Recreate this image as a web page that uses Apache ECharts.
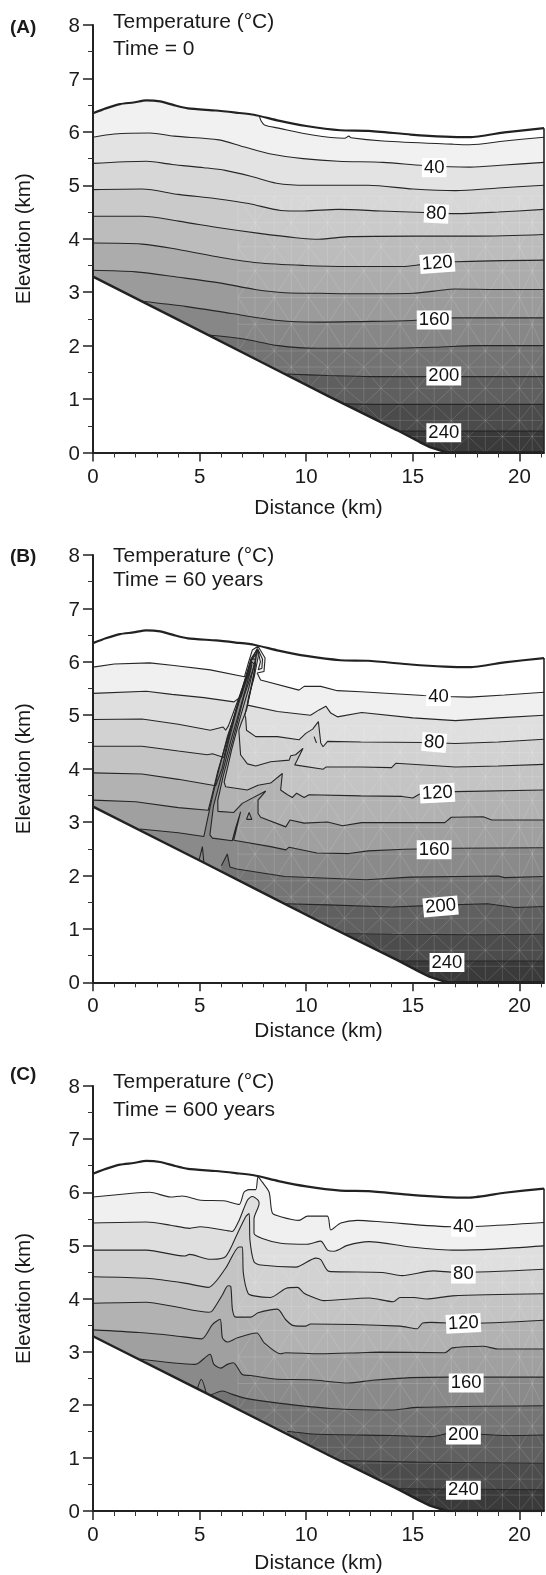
<!DOCTYPE html>
<html>
<head>
<meta charset="utf-8">
<style>
  html, body { margin: 0; padding: 0; background: #fff; }
  #chart { width: 546px; height: 1575px; }
</style>
<script src="https://cdn.jsdelivr.net/npm/echarts@6/dist/echarts.min.js"></script>
</head>
<body>
<div id="chart"></div>
<script>
  // ground surface and bottom of the model, same in all three panels
  var surface = [[0,6.35],[0.6,6.44],[1.27,6.52],[1.9,6.55],[2.5,6.59],[3.15,6.57],[3.8,6.5],[4.45,6.44],[5.76,6.40],[6.7,6.36],[7.55,6.32],[8.7,6.21],[10,6.11],[11.6,6.03],[12.9,6.02],[14.9,5.95],[16.5,5.91],[17.67,5.90],[19.3,5.99],[21.15,6.07]]
  var basement = [[0,3.29],[5,2.28],[8,1.67],[11.1,1.04],[14.25,0.42],[15.3,0.2],[15.8,0.1],[16.6,0],[21.15,0]]

  // panel A, time = 0
  var a0 = [[7.8,6.3],[7.88,6.21],[8.04,6.13],[8.7,6.07],[10.3,5.94],[11.8,5.88],[12,5.92],[12.1,5.89],[13.6,5.83],[16.85,5.77],[17.67,5.76],[19.3,5.83],[21.15,5.90]]
  var a1 = [[0,5.9],[1,5.96],[2.66,5.98],[3.8,5.92],[5.9,5.85],[7.06,5.72],[8.4,5.58],[9.85,5.50],[11.5,5.45],[13.6,5.43],[15.5,5.37],[17.67,5.34],[19.3,5.38],[21.15,5.43]]
  var a2 = [[0,5.41],[2.5,5.45],[3.7,5.39],[5.2,5.33],[6.2,5.28],[7.4,5.17],[8.6,5.04],[10,5.0],[11,5.0],[12.9,5.0],[15,4.93],[17,4.9],[19,4.95],[21.15,5.0]]
  var a3 = [[0,4.92],[2.3,4.93],[4,4.83],[5.8,4.75],[7.3,4.66],[8.8,4.53],[9.9,4.52],[11.5,4.55],[13.5,4.52],[15.5,4.49],[17,4.47],[19,4.5],[21.15,4.55]]
  var a4 = [[0,4.42],[2.3,4.42],[4,4.33],[6,4.2],[7.8,4.1],[9.5,4.02],[10.6,3.99],[12,4.04],[15,4.05],[18,4.05],[21.15,4.08]]
  var a5 = [[0,3.92],[2.3,3.9],[4,3.8],[6,3.65],[7.7,3.55],[9.9,3.5],[12,3.48],[14.5,3.48],[15.5,3.52],[17,3.57],[21.15,3.6]]
  var a6 = [[0,3.41],[2,3.38],[4,3.28],[6,3.17],[7.6,3.05],[9,2.99],[10.6,2.98],[12.5,2.97],[15,2.98],[16,3.02],[17,3.06],[19,3.05],[21.15,3.05]]
  var a7 = [[2.3,2.83],[4.4,2.73],[6.5,2.6],[8.7,2.47],[10.5,2.44],[12.5,2.45],[15,2.47],[17,2.52],[21.15,2.52]]
  var a8 = [[5.4,2.2],[7,2.13],[8.7,2.0],[10.5,1.95],[13,1.95],[16,1.97],[18,2],[21.15,2]]
  var a9 = [[9,1.47],[11,1.44],[13,1.42],[16,1.42],[21.15,1.42]]
  var a10 = [[11.8,0.91],[14,0.9],[21.15,0.9]]
  var a11 = [[14.3,0.4],[17,0.4],[21.15,0.4]]
  var labelsA = [[16,5.33,'40',0],[16.1,4.47,'80',-3],[16.15,3.54,'120',4],[16,2.48,'160',0],[16.45,1.43,'200',0],[16.45,0.37,'240',0]]

  // panel B, time = 60 years
  var b1 = [[0,5.9],[1,5.96],[2.66,5.98],[3.8,5.93],[5.5,5.85],[7.1,5.72],[7.11,5.75],[7.3,6.0],[7.47,6.22],[7.74,6.29],[8.07,6.07],[8.02,5.82],[7.7,5.79],[7.86,5.66],[9.66,5.47],[9.9,5.54],[10.68,5.54],[11.46,5.46],[12.56,5.44],[15.5,5.37],[16.5,5.35],[17.67,5.34],[19.3,5.38],[21.15,5.43]]
  var b2 = [[0,5.41],[2.5,5.45],[3.7,5.39],[5.2,5.33],[6.61,5.25],[6.95,5.35],[7.4,6.0],[7.7,6.25],[7.75,6.1],[7.55,5.7],[7.3,5.35],[7.24,5.19],[8.65,5.07],[10.2,5.0],[10.6,5.1],[10.92,5.17],[11.15,5.04],[11.46,4.97],[12.6,5.05],[15,4.95],[17,4.9],[19,4.95],[21.15,5.0]]
  var b3 = [[0,4.92],[2.3,4.93],[4,4.83],[5.5,4.72],[6.1,4.78],[6.22,4.72],[6.35,4.8],[7.0,5.5],[7.4,6.05],[7.68,6.22],[7.6,5.9],[7.35,5.4],[7.12,5.0],[7.16,4.95],[7.2,4.72],[7.63,4.6],[8.65,4.6],[9.66,4.54],[9.98,4.66],[10.3,4.74],[10.57,4.88],[10.68,4.48],[10.79,4.41],[11,4.51],[12.56,4.5],[15.5,4.49],[17,4.47],[19,4.5],[21.15,4.55]]
  var b3bit = [[10.37,4.6],[10.48,4.48]]
  var b4 = [[0,4.42],[2.3,4.42],[4,4.33],[5.36,4.26],[5.6,4.28],[6.14,4.21],[6.25,4.4],[6.45,4.72],[6.95,5.45],[7.42,6.02],[7.65,6.15],[7.55,5.75],[7.2,5.1],[6.95,4.85],[6.84,4.72],[6.92,4.26],[7.24,4.09],[7.63,4.05],[8.33,4.13],[9.2,4.16],[9.27,4.24],[9.5,4.26],[9.85,4.38],[9.46,4.07],[10.8,3.99],[10.92,4.03],[12.56,4.03],[14,4.02],[14.2,4.1],[17,4.03],[19,4.05],[21.15,4.08]]
  var b5 = [[0,3.92],[2.3,3.9],[4,3.8],[5.75,3.68],[6.05,4.0],[6.35,4.5],[6.9,5.35],[7.45,6.05],[7.62,6.05],[7.3,5.5],[6.9,4.95],[6.5,4.35],[6.3,4.0],[6.15,3.75],[6.22,3.66],[7.24,3.6],[7.74,3.69],[8.33,3.73],[8.88,3.91],[8.8,3.6],[9.12,3.51],[9.35,3.46],[9.55,3.54],[9.9,3.46],[10.13,3.51],[12.56,3.49],[14.5,3.48],[15,3.45],[15.3,3.52],[17,3.57],[21.15,3.6]]
  var b6 = [[0,3.41],[2,3.38],[4,3.27],[5.4,3.22],[5.55,3.45],[5.85,3.95],[6.3,4.55],[6.85,5.3],[7.45,6.0],[7.58,5.95],[7.08,5.35],[6.6,4.6],[6.1,3.85],[5.85,3.4],[5.86,3.2],[6.6,3.18],[7,3.35],[8.1,3.58],[7.74,3.41],[7.74,3.16],[7.86,3.09],[9.04,2.91],[9.24,3.04],[9.9,2.98],[11,3],[11.7,2.93],[12.6,2.99],[16.5,2.99],[16.8,3.09],[18.3,3.1],[18.7,3.04],[21.15,3.04]]
  var b6bit = [[7.2,3.05],[7.32,3.18],[7.45,3.05],[7.2,3.05]]
  var b7 = [[2.2,2.87],[4,2.8],[5.2,2.73],[5.5,3.3],[5.85,3.9],[6.3,4.6],[6.85,5.25],[7.45,5.95],[7.4,5.85],[6.95,5.2],[6.45,4.5],[5.98,3.8],[5.65,3.3],[5.48,2.76],[5.6,2.7],[6.53,2.65],[6.69,2.89],[6.92,3.19],[6.6,2.66],[8.33,2.54],[9.04,2.48],[9.2,2.53],[10.5,2.42],[12,2.41],[12.9,2.46],[14.6,2.49],[16.85,2.51],[21.15,2.52]]
  var b8bit = [[4.97,2.28],[5.13,2.54],[5.2,2.24]]
  var b8 = [[6.02,2.18],[6.3,2.4],[6.42,2.16],[6.74,2.12],[9,1.98],[12.8,1.92],[14.9,1.97],[19,1.99],[19.3,1.96],[21.15,1.98]]
  var b9 = [[9,1.47],[11,1.45],[14,1.41],[16,1.44],[18.5,1.47],[19.8,1.4],[21.15,1.42]]
  var b10 = [[11.8,0.91],[14,0.9],[18,0.89],[21.15,0.9]]
  var b11 = [[14.3,0.4],[17,0.4],[21.15,0.4]]
  var plumeTop = [[7.72,6.25],[7.95,6.05],[7.92,5.88],[7.75,5.85],[7.85,6.0],[7.74,6.2]]
  var labelsB = [[16.2,5.35,'40',0],[16,4.49,'80',-5],[16.15,3.54,'120',3],[16,2.48,'160',0],[16.3,1.42,'200',5],[16.6,0.37,'240',0]]

  // panel C, time = 600 years
  var c1 = [[0,5.91],[1.84,5.98],[2.66,6],[3.64,5.91],[4.19,5.93],[5.05,5.85],[6.14,5.84],[6.85,5.77],[7.08,6.0],[7.32,6.05],[7.63,6.05],[7.74,6.29],[7.94,6.19],[8.26,6.0],[8.41,5.61],[8.8,5.54],[9.66,5.47],[10.06,5.55],[10.99,5.55],[11.15,5.29],[11.62,5.42],[12.4,5.47],[13.6,5.44],[16.85,5.35],[18.2,5.36],[21.15,5.43]]
  var c2 = [[0,5.42],[2.5,5.44],[3.64,5.38],[4.53,5.32],[5.02,5.35],[6.41,5.27],[6.53,5.26],[6.85,5.47],[7.24,5.85],[7.47,5.92],[7.74,5.85],[7.79,5.79],[7.55,5.5],[7.55,5.23],[7.94,5.13],[8.8,5.04],[10.06,5.02],[10.68,5.08],[11,4.91],[11.31,4.89],[11.93,5.0],[12.94,5.07],[14.9,4.97],[17,4.91],[18.8,4.93],[21.15,4.99]]
  var c3 = [[0,4.91],[2.5,4.91],[4.3,4.8],[4.53,4.83],[5.43,4.74],[5.6,4.74],[6.22,4.79],[6.77,5.22],[7.16,5.54],[7.32,5.6],[7.36,5.1],[7.55,4.69],[7.87,4.63],[9.51,4.59],[10.45,4.76],[10.68,4.73],[11.07,4.51],[13.59,4.49],[14.49,4.43],[15.95,4.52],[17,4.49],[21.15,4.55]]
  var c4 = [[0,4.41],[2.5,4.38],[4.29,4.29],[5.4,4.21],[6.22,4.57],[6.85,4.97],[7,4.97],[7.05,4.48],[7.27,4.1],[7.55,4.05],[8.33,4.02],[9.04,4.19],[9.59,4.21],[9.9,4.1],[10.53,3.99],[10.82,3.96],[12.94,4.01],[14.08,3.94],[14.4,4.02],[15.06,4.02],[15.63,3.99],[16.85,4.05],[21.15,4.09]]
  var c5 = [[0,3.91],[2.5,3.93],[3.8,3.85],[5.43,3.74],[5.6,3.77],[6.07,4.07],[6.33,4.24],[6.46,4.23],[6.54,3.79],[6.69,3.65],[7.4,3.65],[7.74,3.73],[8.65,3.8],[9.04,3.6],[9.4,3.49],[9.98,3.48],[10.21,3.52],[14.4,3.48],[15.2,3.43],[15.46,3.54],[15.87,3.55],[17.4,3.53],[21.15,3.59]]
  var c6 = [[0,3.41],[2.17,3.36],[3.8,3.3],[5.1,3.24],[5.6,3.51],[5.96,3.61],[6.07,3.26],[6.3,3.18],[6.77,3.26],[7.68,3.35],[8.02,3.17],[8.8,2.96],[9.04,2.98],[10.68,2.96],[12.56,2.98],[13.43,2.99],[16.5,2.98],[16.85,3.07],[18.3,3.1],[18.97,3.05],[21.15,3.05]]
  var c7 = [[2.17,2.86],[4.78,2.76],[4.97,2.79],[5.49,2.95],[5.67,2.76],[5.99,2.69],[6.3,2.76],[6.58,2.79],[7,2.57],[7.4,2.55],[8.65,2.48],[10.21,2.47],[11.96,2.41],[13.1,2.46],[14.9,2.51],[16.7,2.52],[21.15,2.52]]
  var c8bit = [[4.89,2.3],[5.08,2.48],[5.31,2.22]]
  var c8 = [[5.5,2.18],[6.08,2.26],[6.5,2.2],[7.06,2.13],[8.7,2.03],[11.14,1.93],[14,1.9],[15.2,1.95],[21.15,1.98]]
  var c9 = [[9.1,1.5],[10.3,1.45],[14.08,1.42],[15.87,1.4],[16.85,1.47],[19.46,1.42],[21.15,1.43]]
  var c10 = [[11.6,0.95],[15.2,0.92],[21.15,0.9]]
  var c11 = [[14.2,0.42],[21.15,0.4]]
  var labelsC = [[17.37,5.34,'40',0],[17.37,4.46,'80',0],[17.37,3.53,'120',3],[17.5,2.41,'160',0],[17.37,1.43,'200',0],[17.37,0.39,'240',0]]

  // tick values
  var xTicks = [0, 5, 10, 15, 20]
  var xMinorTicks = [1,2,3,4,6,7,8,9,11,12,13,14,16,17,18,19,21]

  // grey of each band, going downward
  var shadesA = ['#f1f1f1','#e3e3e3','#d7d7d7','#cacaca','#bcbcbc','#acacac','#9b9b9b','#878787','#737373','#5f5f5f','#4b4b4b','#3a3a3a']
  var shadesB = ['#f0f0f0','#dfdfdf','#d2d2d2','#c4c4c4','#b2b2b2','#a0a0a0','#8a8a8a','#757575','#606060','#4c4c4c','#3a3a3a']

  // element mesh seen through the shading
  var meshX = [6.8,7.6,8.5,9.3,10.1,11,11.8,12.7,13.5,14.4,15.2,16,16.8,17.6,18.4,19.2,20,20.6,21.15]
  var meshY = [0,0.3,0.6,0.9,1.2,1.6,1.9,2.4,2.9,3.4,3.85,4.3,4.8]

  function buildMesh() {
    var pts = []
    meshX.forEach(function (x, i) {
      pts.push([x, 0], [x, meshY[meshY.length - 1]], ['-', '-'])
      if (i === 0) return
      meshY.forEach(function (y, j) {
        if (j === 0) return
        var lo = meshY[j - 1]
        var left = meshX[i - 1]
        if ((i + j) % 2) pts.push([left, y], [x, lo], ['-', '-'])
        else pts.push([left, lo], [x, y], ['-', '-'])
        pts.push([left, y], [x, y], ['-', '-'])
      })
    })
    return pts
  }
  var meshPoints = buildMesh()

  var panels = [
    {
      tag: '(A)', time: 'Time = 0', top: 25, height: 427.5, tagTop: 13, tempTop: 7, timeTop: 34, nameGap: 45,
      smooth: 0.3, lines: [a1,a2,a3,a4,a5,a6,a7,a8,a9,a10,a11], extra: [a0], labels: labelsA,
      shades: shadesA.slice(1), topFill: surface.filter(function (p) { return p[0] < 7.7 }).concat(a0), topShade: shadesA[0]
    },
    {
      tag: '(B)', time: 'Time = 60 years', top: 555, height: 427.3, tagTop: 542, tempTop: 541, timeTop: 565, nameGap: 38,
      smooth: 0, lines: [b1,b2,b3,b4,b5,b6,b7,b8,b9,b10,b11], extra: [b3bit,b6bit,b8bit,plumeTop], labels: labelsB,
      shades: shadesB
    },
    {
      tag: '(C)', time: 'Time = 600 years', top: 1086, height: 427.7, tagTop: 1060, tempTop: 1067, timeTop: 1095, nameGap: 42,
      smooth: 0.25, lines: [c1,c2,c3,c4,c5,c6,c7,c8,c9,c10,c11], extra: [c8bit], labels: labelsC,
      shades: shadesB
    }
  ]

  var font = '"Liberation Sans", Arial, Helvetica, sans-serif'
  var textColor = '#1a1a1a'
  var grid = [], xAxis = [], yAxis = [], title = [], series = []

  panels.forEach(function (p, i) {
    grid.push({left: 93, width: 451, top: p.top, height: p.height})
    title.push(
      {text: p.tag, left: 5, top: p.tagTop, textStyle: {fontFamily: font, fontSize: 19, fontWeight: 'bold', color: textColor}},
      {text: 'Temperature (°C)', left: 108, top: p.tempTop, textStyle: {fontFamily: font, fontSize: 21, fontWeight: 'normal', color: textColor}},
      {text: p.time, left: 108, top: p.timeTop, textStyle: {fontFamily: font, fontSize: 21, fontWeight: 'normal', color: textColor}}
    )
    xAxis.push({
      type: 'value', gridIndex: i, min: 0, max: 21.15, position: 'bottom', z: 10,
      name: 'Distance (km)', nameLocation: 'middle', nameGap: p.nameGap,
      nameTextStyle: {fontFamily: font, fontSize: 20.8, color: textColor},
      splitLine: {show: false},
      axisLine: {lineStyle: {color: '#222', width: 2}},
      axisTick: {length: 9, lineStyle: {color: '#222', width: 1.5}, customValues: xTicks},
      axisLabel: {fontFamily: font, fontSize: 20.5, color: textColor, margin: 14, customValues: xTicks}
    })
    yAxis.push({
      type: 'value', gridIndex: i, min: 0, max: 8, interval: 1, z: 10,
      name: 'Elevation (km)', nameLocation: 'middle', nameGap: 58,
      nameTextStyle: {fontFamily: font, fontSize: 20.5, color: textColor},
      splitLine: {show: false},
      axisLine: {show: true, lineStyle: {color: '#222', width: 2}},
      axisTick: {show: true, length: 10, lineStyle: {color: '#222', width: 1.5}},
      minorTick: {show: true, splitNumber: 2, length: 5, lineStyle: {color: '#333', width: 1}},
      axisLabel: {
        margin: 13, formatter: '{n|{value}}',
        rich: {n: {fontFamily: font, fontSize: 20.5, color: textColor, padding: [3, 0, 0, 0]}}
      }
    })

    function base(z) {
      return {type: 'line', xAxisIndex: i, yAxisIndex: i, showSymbol: false, symbol: 'none', silent: true, animation: false, z: z}
    }
    function fill(data, color, smooth) {
      return Object.assign(base(2), {data: data, smooth: smooth, lineStyle: {width: 0}, areaStyle: {color: color, opacity: 1}})
    }
    function stroke(data, width, color, smooth) {
      return Object.assign(base(6), {data: data, smooth: smooth, lineStyle: {width: width, color: color}})
    }

    if (p.topFill) series.push(fill(p.topFill, p.topShade, 0.2))
    p.lines.forEach(function (line, k) {
      series.push(fill(line, p.shades[k], p.smooth))
    })
    series.push(Object.assign(base(3), {data: meshPoints, connectNulls: false, lineStyle: {width: 0.7, color: 'rgba(255,255,255,0.2)'}}))
    series.push(Object.assign(base(4), {data: basement, lineStyle: {width: 0}, areaStyle: {color: '#fff', opacity: 1}}))

    p.lines.concat(p.extra).forEach(function (line) {
      series.push(stroke(line, 1.1, '#262626', p.smooth))
    })
    series.push(stroke(surface, 2.2, '#222', 0.2))
    series.push(stroke(basement, 2.4, '#222', 0))
    series.push(stroke([[21.15, 6.07], [21.15, 0]], 1.6, '#222', 0))

    series.push({
      type: 'scatter', xAxisIndex: i, yAxisIndex: i, symbolSize: 0, silent: true, animation: false, z: 8,
      itemStyle: {opacity: 1},
      data: p.labels.map(function (l) {
        return {
          value: [l[0], l[1]],
          label: {show: true, position: 'inside', formatter: l[2], rotate: l[3], fontFamily: font, fontSize: 18.5, color: '#111', backgroundColor: '#fff', padding: [0, 2]}
        }
      })
    })
  })

  // second set of x axes only for the short ticks every 1 km
  panels.forEach(function (p, i) {
    xAxis.push({
      type: 'value', gridIndex: i, min: 0, max: 21.15, position: 'bottom', z: 10,
      splitLine: {show: false}, axisLine: {show: false}, axisLabel: {show: false},
      axisTick: {length: 5, lineStyle: {color: '#333', width: 1}, customValues: xMinorTicks}
    })
  })

  var chart = echarts.init(document.getElementById('chart'), null, {renderer: 'canvas'})
  chart.setOption({
    backgroundColor: '#fff',
    animation: false,
    title: title,
    grid: grid,
    xAxis: xAxis,
    yAxis: yAxis,
    series: series
  })
</script>
</body>
</html>
